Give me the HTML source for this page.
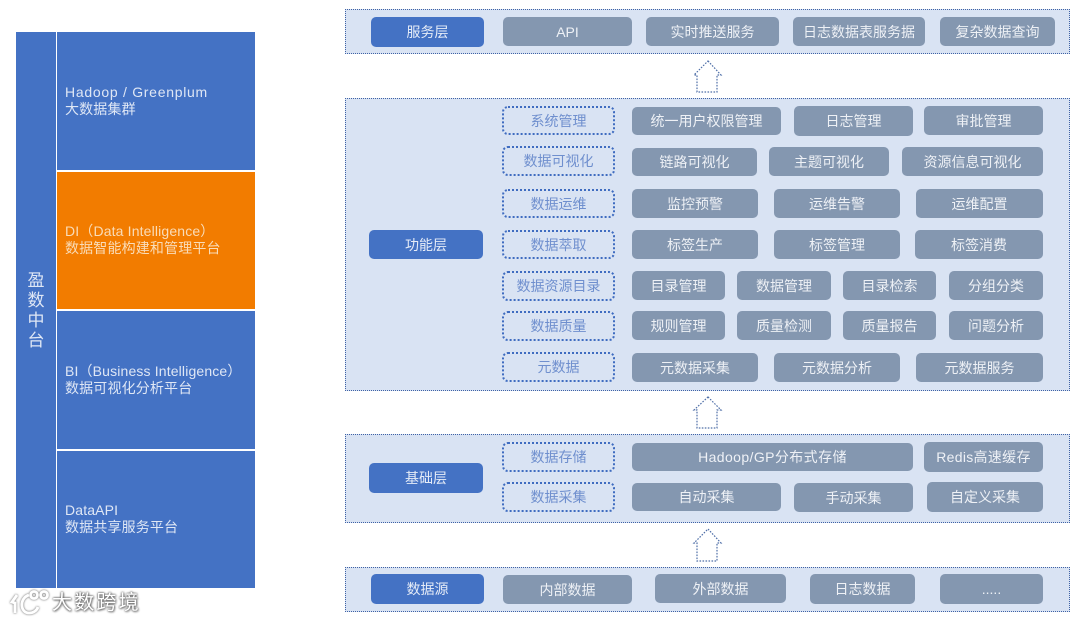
<!DOCTYPE html>
<html lang="zh">
<head>
<meta charset="utf-8">
<style>
html,body{margin:0;padding:0;background:#fff;}
#p{position:relative;width:1080px;height:623px;overflow:hidden;background:#fff;font-family:"Liberation Sans","Noto Sans CJK SC",sans-serif;filter:blur(.35px);}
#p div{position:absolute;box-sizing:border-box;}
.b{background:#4472c4;}
.t{color:#dfe7f5;font-size:14px;line-height:17px;white-space:nowrap;left:65px;letter-spacing:.15px;}
.pn{left:345px;width:725px;background:#d9e3f3;border:1px dotted #3f62a5;}
.g,.h,.d{display:flex;align-items:center;justify-content:center;white-space:nowrap;font-size:14px;border-radius:5px;}
.g{background:#8497b0;color:#eef1f6;}
.h{background:#4472c4;color:#e6ecf7;}
.d{border:2px dotted #3f6cc0;color:#6f8fce;left:502px;width:113px;height:29px;border-radius:6px;}
</style>
</head>
<body>
<div id="p">
<div class="b" style="left:16px;top:32px;width:40px;height:556px"></div>
<div style="left:26px;top:271px;width:20px;color:#dfe7f5;font-size:17px;line-height:20px;text-align:center">盈<br>数<br>中<br>台</div>
<div class="b" style="left:57px;top:32px;width:198px;height:138px"></div>
<div style="left:57px;top:172px;width:198px;height:137px;background:#f27c00"></div>
<div class="b" style="left:57px;top:311px;width:198px;height:138px"></div>
<div class="b" style="left:57px;top:451px;width:198px;height:137px"></div>
<div class="t" style="top:84px"><span style="letter-spacing:.72px">Hadoop / Greenplum</span><br>大数据集群</div>
<div class="t" style="top:223px;color:#f9dcb8">DI（Data Intelligence）<br>数据智能构建和管理平台</div>
<div class="t" style="top:363px">BI（Business Intelligence）<br>数据可视化分析平台</div>
<div class="t" style="top:502px">DataAPI<br>数据共享服务平台</div>

<div style="left:52px;top:592px;font-size:20px;line-height:22px;color:#fff;white-space:nowrap;letter-spacing:2.2px;text-shadow:0 0 2px #666,0 0 2px #666,1px 1px 2px #888">大数跨境</div>
<svg style="position:absolute;left:8px;top:588px" width="44" height="30" fill="none" stroke="#fff">
<g style="filter:drop-shadow(0 0 1px #555)" stroke-width="2.8">
<path d="M9 7 L4 14 L7 15 L7 25"/>
<path d="M21 7 C11 10 12 25 21 25 C26 25 29 22 30 19"/>
<circle cx="26" cy="7" r="3.5"/><circle cx="36" cy="7" r="3.5"/>
</g>
</svg>

<div class="pn" style="top:9px;height:45px"></div>
<div class="pn" style="top:98px;height:293px"></div>
<div class="pn" style="top:434px;height:89px"></div>
<div class="pn" style="top:567px;height:45px"></div>

<svg style="position:absolute;left:690px;top:0" width="36" height="570" fill="#fff" stroke="#4f6fa8" stroke-width="1.2" stroke-dasharray="1.6 1.4">
<path d="M18 61 L31 75 L27 75 L27 92 L7 92 L7 75 L4 75 Z"/>
<path d="M18 397 L31 410 L27 410 L27 428 L7 428 L7 410 L4 410 Z"/>
<path d="M18 529 L31 543 L27 543 L27 561 L7 561 L7 543 L4 543 Z"/>
</svg>

<div class="h" style="left:371px;top:17px;width:113px;height:30px">服务层</div>
<div class="g" style="left:503px;top:17px;width:129px;height:29px">API</div>
<div class="g" style="left:646px;top:17px;width:133px;height:29px">实时推送服务</div>
<div class="g" style="left:793px;top:17px;width:132px;height:29px">日志数据表服务据</div>
<div class="g" style="left:940px;top:17px;width:115px;height:29px">复杂数据查询</div>

<div class="h" style="left:369px;top:230px;width:114px;height:29px">功能层</div>
<div class="d" style="top:106px">系统管理</div>
<div class="d" style="top:146px;height:30px">数据可视化</div>
<div class="d" style="top:189px">数据运维</div>
<div class="d" style="top:230px">数据萃取</div>
<div class="d" style="top:271px;height:30px">数据资源目录</div>
<div class="d" style="top:311px;height:30px">数据质量</div>
<div class="d" style="top:352px;height:30px">元数据</div>

<div class="g" style="left:632px;top:107px;width:149px;height:28px">统一用户权限管理</div>
<div class="g" style="left:794px;top:106px;width:119px;height:30px">日志管理</div>
<div class="g" style="left:924px;top:106px;width:119px;height:29px">审批管理</div>

<div class="g" style="left:632px;top:148px;width:125px;height:28px">链路可视化</div>
<div class="g" style="left:769px;top:147px;width:120px;height:29px">主题可视化</div>
<div class="g" style="left:902px;top:147px;width:141px;height:29px">资源信息可视化</div>

<div class="g" style="left:632px;top:189px;width:126px;height:29px">监控预警</div>
<div class="g" style="left:774px;top:189px;width:126px;height:29px">运维告警</div>
<div class="g" style="left:916px;top:189px;width:127px;height:29px">运维配置</div>

<div class="g" style="left:632px;top:230px;width:126px;height:29px">标签生产</div>
<div class="g" style="left:774px;top:230px;width:126px;height:29px">标签管理</div>
<div class="g" style="left:915px;top:230px;width:128px;height:29px">标签消费</div>

<div class="g" style="left:632px;top:271px;width:93px;height:29px">目录管理</div>
<div class="g" style="left:737px;top:271px;width:94px;height:29px">数据管理</div>
<div class="g" style="left:843px;top:271px;width:93px;height:29px">目录检索</div>
<div class="g" style="left:949px;top:271px;width:94px;height:29px">分组分类</div>

<div class="g" style="left:632px;top:311px;width:93px;height:29px">规则管理</div>
<div class="g" style="left:737px;top:311px;width:94px;height:29px">质量检测</div>
<div class="g" style="left:843px;top:311px;width:93px;height:29px">质量报告</div>
<div class="g" style="left:949px;top:311px;width:94px;height:29px">问题分析</div>

<div class="g" style="left:632px;top:353px;width:126px;height:29px">元数据采集</div>
<div class="g" style="left:774px;top:353px;width:126px;height:29px">元数据分析</div>
<div class="g" style="left:916px;top:353px;width:127px;height:29px">元数据服务</div>

<div class="h" style="left:369px;top:463px;width:114px;height:30px">基础层</div>
<div class="d" style="top:442px;height:30px">数据存储</div>
<div class="d" style="top:482px;height:30px">数据采集</div>
<div class="g" style="left:632px;top:443px;width:281px;height:28px;letter-spacing:.4px">Hadoop/GP分布式存储</div>
<div class="g" style="left:924px;top:442px;width:119px;height:30px;letter-spacing:.3px">Redis高速缓存</div>
<div class="g" style="left:632px;top:483px;width:149px;height:28px">自动采集</div>
<div class="g" style="left:794px;top:483px;width:119px;height:29px">手动采集</div>
<div class="g" style="left:927px;top:482px;width:116px;height:30px">自定义采集</div>

<div class="h" style="left:371px;top:574px;width:113px;height:30px">数据源</div>
<div class="g" style="left:503px;top:575px;width:129px;height:29px">内部数据</div>
<div class="g" style="left:655px;top:574px;width:131px;height:29px">外部数据</div>
<div class="g" style="left:810px;top:574px;width:105px;height:30px">日志数据</div>
<div class="g" style="left:940px;top:574px;width:103px;height:30px">.....</div>
</div>
</body>
</html>
